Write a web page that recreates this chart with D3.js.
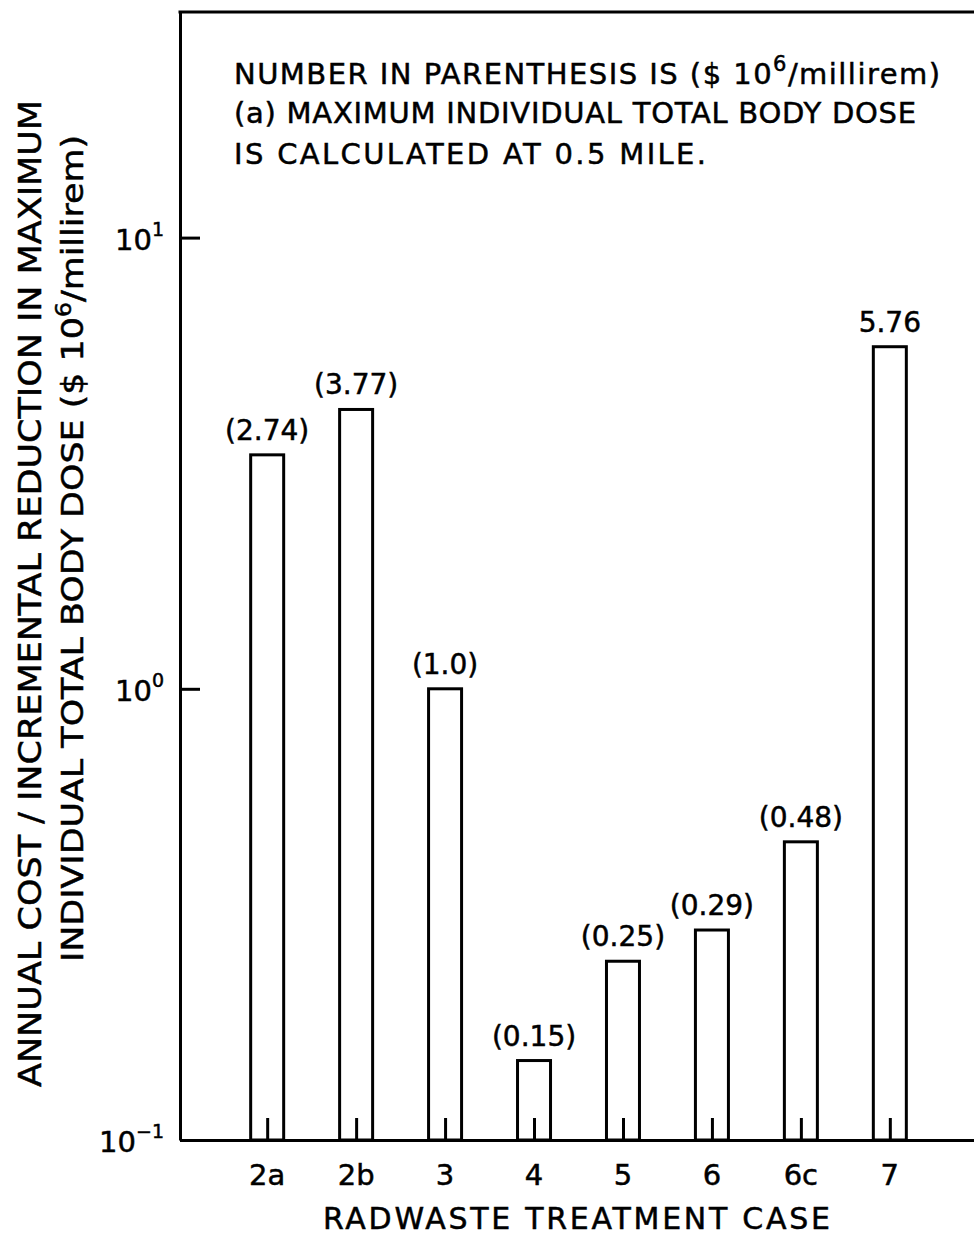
<!DOCTYPE html>
<html>
<head>
<meta charset="utf-8">
<script src="https://cdn.jsdelivr.net/npm/d3@7"></script>
<style>
  html, body { margin: 0; padding: 0; background: #fff; }
  svg { display: block; }
  text { font-family: "DejaVu Sans", sans-serif; fill: #000; stroke: #000; stroke-width: 0.5px; }
</style>
</head>
<body>
<script>
// ---- data ----
const categories = ["2a", "2b", "3", "4", "5", "6", "6c", "7"];
const values = [3.30, 4.16, 1.0, 0.150, 0.249, 0.292, 0.458, 5.73];
const valueLabels = ["(2.74)", "(3.77)", "(1.0)", "(0.15)", "(0.25)", "(0.29)", "(0.48)", "5.76"];
const yTickValues = [0.1, 1, 10];
const yTickExponents = ["\u22121", "0", "1"];
const xTitle = "RADWASTE TREATMENT CASE";
const yTitleLines = ["ANNUAL COST / INCREMENTAL REDUCTION IN MAXIMUM", "INDIVIDUAL TOTAL BODY DOSE ($ 10"];
const noteLines = ["NUMBER IN PARENTHESIS IS ($ 10", "(a) MAXIMUM INDIVIDUAL TOTAL BODY DOSE", "IS CALCULATED AT 0.5 MILE."];

(function () {
const W = 974, H = 1237;
const svg = d3.select("body").append("svg").attr("width", W).attr("height", H);

const plotLeft = 180, plotTop = 12, plotBottom = 1140;
const y = d3.scaleLog().domain([0.1, Math.pow(10, 1.5)]).range([plotBottom, plotTop]);
const x = d3.scalePoint().domain(categories).range([plotLeft, 977]).padding(0.98);
const barW = 33;

// frame: top line
svg.append("line").attr("x1", plotLeft - 1.5).attr("x2", W).attr("y1", plotTop).attr("y2", plotTop)
  .attr("stroke", "#000").attr("stroke-width", 3);

// y axis
const yAxis = svg.append("g").attr("transform", `translate(${plotLeft},0)`)
  .call(d3.axisLeft(y).tickValues(yTickValues).tickSize(-20).tickSizeOuter(0).tickFormat(""));
yAxis.selectAll("path, line").attr("stroke", "#000").attr("stroke-width", 3);

// x axis
const xAxis = svg.append("g").attr("transform", `translate(0,${plotBottom})`)
  .call(d3.axisBottom(x).tickSize(-22).tickSizeOuter(0).tickFormat(""));
xAxis.selectAll("path, line").attr("stroke", "#000").attr("stroke-width", 3);

// bars
svg.append("g").selectAll("rect").data(categories).join("rect")
  .attr("x", (c) => x(c) - barW / 2)
  .attr("width", barW)
  .attr("y", (c, i) => y(values[i]))
  .attr("height", (c, i) => y(0.1) - y(values[i]))
  .attr("fill", "none").attr("stroke", "#000").attr("stroke-width", 3);

// value labels
svg.append("g").selectAll("text").data(categories).join("text")
  .attr("x", (c) => x(c))
  .attr("y", (c, i) => y(values[i]) - 15)
  .attr("text-anchor", "middle")
  .attr("font-size", 28)
  .text((c, i) => valueLabels[i]);

// category labels
svg.append("g").selectAll("text").data(categories).join("text")
  .attr("x", (c) => x(c))
  .attr("y", plotBottom + 45)
  .attr("text-anchor", "middle")
  .attr("font-size", 29)
  .text((c) => c);

// y tick labels
const yl = svg.append("g").selectAll("text").data(yTickValues).join("text")
  .attr("x", 164)
  .attr("y", (d) => y(d) + 12)
  .attr("text-anchor", "end")
  .attr("font-size", 29);
yl.append("tspan").text("10");
yl.append("tspan").attr("dy", -14).attr("font-size", 19).text((d, i) => yTickExponents[i]);

// x title
svg.append("text")
  .attr("x", 323).attr("y", 1229)
  .attr("font-size", 30)
  .attr("textLength", 507).attr("lengthAdjust", "spacing")
  .text(xTitle);

// y title
svg.append("text")
  .attr("transform", "translate(41,1087) rotate(-90)")
  .attr("font-size", 32)
  .attr("textLength", 987).attr("lengthAdjust", "spacingAndGlyphs")
  .text(yTitleLines[0]);
const yt2 = svg.append("text")
  .attr("transform", "translate(83,962) rotate(-90)")
  .attr("font-size", 31)
  .attr("textLength", 827).attr("lengthAdjust", "spacingAndGlyphs");
yt2.append("tspan").text(yTitleLines[1]);
yt2.append("tspan").attr("dy", -12).attr("font-size", 21).text("6");
yt2.append("tspan").attr("dy", 12).text("/millirem)");

// note text
const noteY = [84, 123, 164];
const noteLen = [706, 682, 472];
noteLines.forEach((line, i) => {
  const t = svg.append("text")
    .attr("x", 234).attr("y", noteY[i])
    .attr("font-size", 29)
    .attr("textLength", noteLen[i]).attr("lengthAdjust", "spacing");
  t.append("tspan").text(line);
  if (i === 0) {
    t.append("tspan").attr("dy", -13).attr("font-size", 21).text("6");
    t.append("tspan").attr("dy", 13).text("/millirem)");
  }
});
})();
</script>
</body>
</html>
